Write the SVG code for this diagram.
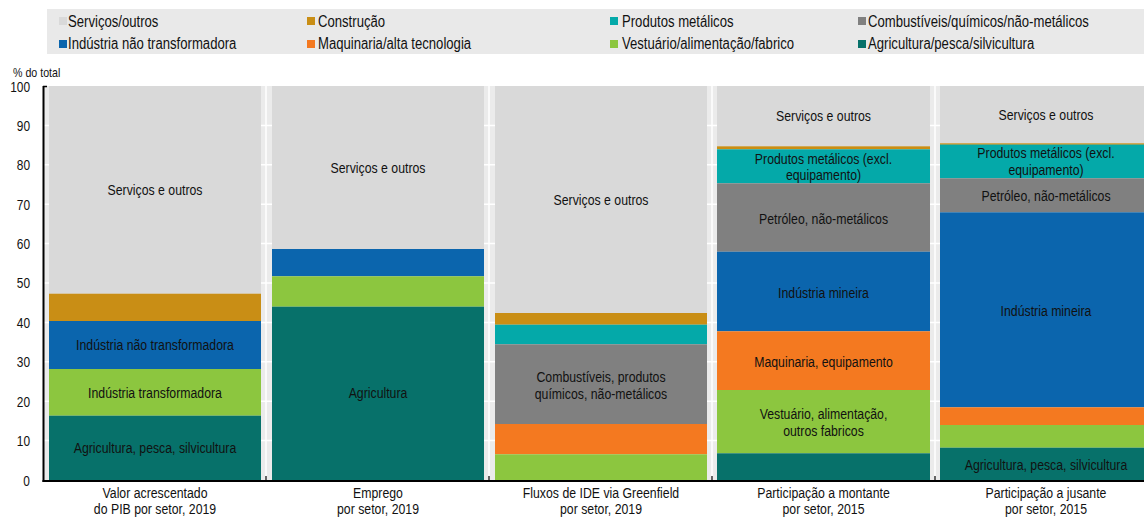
<svg xmlns="http://www.w3.org/2000/svg" width="1144" height="517" viewBox="0 0 1144 517">
<style>
text{font-family:"Liberation Sans",Arial,sans-serif;fill:#111;}
.lg{font-size:16px;}
.lb{font-size:15px;text-anchor:middle;}
.ax{font-size:15px;text-anchor:middle;}
.yt{font-size:14px;text-anchor:end;}
.sv{fill:#d9d9d9;}
.co{fill:#c98e15;}
.pm{fill:#04a9a9;}
.cq{fill:#808080;}
.nt{fill:#0b65ad;}
.mq{fill:#f47920;}
.vt{fill:#8cc63f;}
.ag{fill:#07716a;}
.grid line{stroke:#fff;stroke-width:1.5;}
</style>
<rect x="0" y="0" width="1144" height="517" fill="#fff"/>
<g id="legend">
<rect x="47" y="9" width="1097" height="45" fill="#e9e9e9"/>
<rect class="sv" x="59" y="17" width="8" height="8"/><text class="lg" transform="translate(68,26.5) scale(0.82,1)">Serviços/outros</text>
<rect class="co" x="307" y="17" width="8" height="8"/><text class="lg" transform="translate(318,26.5) scale(0.82,1)">Construção</text>
<rect class="pm" x="610" y="17" width="8" height="8"/><text class="lg" transform="translate(622,26.5) scale(0.82,1)">Produtos metálicos</text>
<rect class="cq" x="858" y="17" width="8" height="8"/><text class="lg" transform="translate(868,26.5) scale(0.82,1)">Combustíveis/químicos/não-metálicos</text>
<rect class="nt" x="59" y="40" width="8" height="8"/><text class="lg" transform="translate(68,49) scale(0.82,1)">Indústria não transformadora</text>
<rect class="mq" x="307" y="40" width="8" height="8"/><text class="lg" transform="translate(318,49) scale(0.82,1)">Maquinaria/alta tecnologia</text>
<rect class="vt" x="610" y="40" width="8" height="8"/><text class="lg" transform="translate(622,49) scale(0.82,1)">Vestuário/alimentação/fabrico</text>
<rect class="ag" x="858" y="40" width="8" height="8"/><text class="lg" transform="translate(868,49) scale(0.82,1)">Agricultura/pesca/silvicultura</text>
</g>
<g id="plot-area">
<rect x="44" y="86" width="1100" height="394" fill="#ebebeb"/>
<g class="grid">
<line x1="44" y1="440.6" x2="1144" y2="440.6"/>
<line x1="44" y1="401.2" x2="1144" y2="401.2"/>
<line x1="44" y1="361.8" x2="1144" y2="361.8"/>
<line x1="44" y1="322.4" x2="1144" y2="322.4"/>
<line x1="44" y1="283" x2="1144" y2="283"/>
<line x1="44" y1="243.6" x2="1144" y2="243.6"/>
<line x1="44" y1="204.2" x2="1144" y2="204.2"/>
<line x1="44" y1="164.8" x2="1144" y2="164.8"/>
<line x1="44" y1="125.4" x2="1144" y2="125.4"/>
<line x1="266" y1="86" x2="266" y2="480" stroke-width="2"/>
<line x1="489" y1="86" x2="489" y2="480" stroke-width="2"/>
<line x1="712" y1="86" x2="712" y2="480" stroke-width="2"/>
<line x1="935" y1="86" x2="935" y2="480" stroke-width="2"/>
</g>
</g>
<g id="bar-valor">
<rect class="sv" x="49" y="86" width="212" height="207.7"/>
<rect class="co" x="49" y="293.7" width="212" height="27.3"/>
<rect class="nt" x="49" y="321" width="212" height="48"/>
<rect class="vt" x="49" y="369" width="212" height="46.7"/>
<rect class="ag" x="49" y="415.7" width="212" height="64.3"/>
<text class="lb" transform="translate(155,195) scale(0.82,1)">Serviços e outros</text>
<text class="lb" transform="translate(155,350) scale(0.82,1)">Indústria não transformadora</text>
<text class="lb" transform="translate(155,398) scale(0.82,1)">Indústria transformadora</text>
<text class="lb" transform="translate(155,452.5) scale(0.82,1)">Agricultura, pesca, silvicultura</text>
</g>
<g id="bar-emprego">
<rect class="sv" x="272" y="86" width="212" height="163"/>
<rect class="nt" x="272" y="249" width="212" height="27.3"/>
<rect class="vt" x="272" y="276.3" width="212" height="30.4"/>
<rect class="ag" x="272" y="306.7" width="212" height="173.3"/>
<text class="lb" transform="translate(378,173) scale(0.82,1)">Serviços e outros</text>
<text class="lb" transform="translate(378,398) scale(0.82,1)">Agricultura</text>
</g>
<g id="bar-ide">
<rect class="sv" x="495" y="86" width="212" height="227"/>
<rect class="co" x="495" y="313" width="212" height="11.7"/>
<rect class="pm" x="495" y="324.7" width="212" height="19.6"/>
<rect class="cq" x="495" y="344.3" width="212" height="79.7"/>
<rect class="mq" x="495" y="424" width="212" height="30.3"/>
<rect class="vt" x="495" y="454.3" width="212" height="25.7"/>
<text class="lb" transform="translate(601,205) scale(0.82,1)">Serviços e outros</text>
<text class="lb" transform="translate(601,382) scale(0.82,1)">Combustíveis, produtos</text>
<text class="lb" transform="translate(601,399) scale(0.82,1)">químicos, não-metálicos</text>
</g>
<g id="bar-montante">
<rect class="sv" x="717" y="86" width="213" height="60.3"/>
<rect class="co" x="717" y="146.3" width="213" height="3"/>
<rect class="pm" x="717" y="149.3" width="213" height="34"/>
<rect class="cq" x="717" y="183.3" width="213" height="68.4"/>
<rect class="nt" x="717" y="251.7" width="213" height="79.6"/>
<rect class="mq" x="717" y="331.3" width="213" height="58.7"/>
<rect class="vt" x="717" y="390" width="213" height="63.3"/>
<rect class="ag" x="717" y="453.3" width="213" height="26.7"/>
<text class="lb" transform="translate(823.5,121) scale(0.82,1)">Serviços e outros</text>
<text class="lb" transform="translate(823.5,163.5) scale(0.82,1)">Produtos metálicos (excl.</text>
<text class="lb" transform="translate(823.5,180) scale(0.82,1)">equipamento)</text>
<text class="lb" transform="translate(823.5,223.5) scale(0.82,1)">Petróleo, não-metálicos</text>
<text class="lb" transform="translate(823.5,297.5) scale(0.82,1)">Indústria mineira</text>
<text class="lb" transform="translate(823.5,367) scale(0.82,1)">Maquinaria, equipamento</text>
<text class="lb" transform="translate(823.5,419) scale(0.82,1)">Vestuário, alimentação,</text>
<text class="lb" transform="translate(823.5,436) scale(0.82,1)">outros fabricos</text>
</g>
<g id="bar-jusante">
<rect class="sv" x="940" y="86" width="212" height="57.3"/>
<rect class="co" x="940" y="143.3" width="212" height="1.5"/>
<rect class="pm" x="940" y="144.6" width="212" height="33.7"/>
<rect class="cq" x="940" y="178.3" width="212" height="34"/>
<rect class="nt" x="940" y="212.3" width="212" height="195"/>
<rect class="mq" x="940" y="407.3" width="212" height="17.7"/>
<rect class="vt" x="940" y="425" width="212" height="22.7"/>
<rect class="ag" x="940" y="447.7" width="212" height="32.3"/>
<text class="lb" transform="translate(1046,120) scale(0.82,1)">Serviços e outros</text>
<text class="lb" transform="translate(1046,157.5) scale(0.82,1)">Produtos metálicos (excl.</text>
<text class="lb" transform="translate(1046,174.5) scale(0.82,1)">equipamento)</text>
<text class="lb" transform="translate(1046,201) scale(0.82,1)">Petróleo, não-metálicos</text>
<text class="lb" transform="translate(1046,316) scale(0.82,1)">Indústria mineira</text>
<text class="lb" transform="translate(1046,470) scale(0.82,1)">Agricultura, pesca, silvicultura</text>
</g>
<g id="axes" stroke="#000">
<line x1="43.5" y1="86" x2="43.5" y2="482" stroke-width="2"/>
<line x1="43" y1="86.5" x2="47" y2="86.5" stroke-width="1.5"/>
<line x1="42.5" y1="481" x2="1144" y2="481" stroke-width="2"/>
<line x1="266" y1="476" x2="266" y2="481" stroke-width="1.2"/>
<line x1="489" y1="476" x2="489" y2="481" stroke-width="1.2"/>
<line x1="712" y1="476" x2="712" y2="481" stroke-width="1.2"/>
<line x1="935" y1="476" x2="935" y2="481" stroke-width="1.2"/>
</g>
<g id="y-labels">
<text transform="translate(13,77) scale(0.82,1)" style="font-size:13px">% do total</text>
<text class="yt" transform="translate(30,91.5) scale(0.85,1)">100</text>
<text class="yt" transform="translate(30,130.5) scale(0.85,1)">90</text>
<text class="yt" transform="translate(30,170) scale(0.85,1)">80</text>
<text class="yt" transform="translate(30,209.5) scale(0.85,1)">70</text>
<text class="yt" transform="translate(30,249) scale(0.85,1)">60</text>
<text class="yt" transform="translate(30,288) scale(0.85,1)">50</text>
<text class="yt" transform="translate(30,327.5) scale(0.85,1)">40</text>
<text class="yt" transform="translate(30,367) scale(0.85,1)">30</text>
<text class="yt" transform="translate(30,406.5) scale(0.85,1)">20</text>
<text class="yt" transform="translate(30,446) scale(0.85,1)">10</text>
<text class="yt" transform="translate(30,485.5) scale(0.85,1)">0</text>
</g>
<g id="x-labels">
<text class="ax" transform="translate(155,497.5) scale(0.82,1)">Valor acrescentado</text>
<text class="ax" transform="translate(155,514) scale(0.82,1)">do PIB por setor, 2019</text>
<text class="ax" transform="translate(378,497.5) scale(0.82,1)">Emprego</text>
<text class="ax" transform="translate(378,514) scale(0.82,1)">por setor, 2019</text>
<text class="ax" transform="translate(601,497.5) scale(0.82,1)">Fluxos de IDE via Greenfield</text>
<text class="ax" transform="translate(601,514) scale(0.82,1)">por setor, 2019</text>
<text class="ax" transform="translate(823.5,497.5) scale(0.82,1)">Participação a montante</text>
<text class="ax" transform="translate(823.5,514) scale(0.82,1)">por setor, 2015</text>
<text class="ax" transform="translate(1046,497.5) scale(0.82,1)">Participação a jusante</text>
<text class="ax" transform="translate(1046,514) scale(0.82,1)">por setor, 2015</text>
</g>
</svg>
